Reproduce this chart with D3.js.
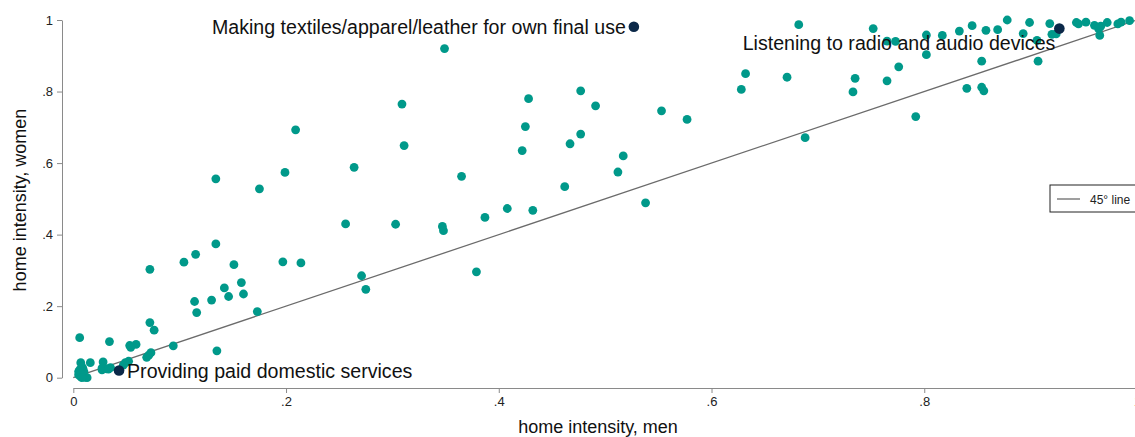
<!DOCTYPE html>
<html>
<head>
<meta charset="utf-8">
<script src="https://cdn.jsdelivr.net/npm/d3@7"></script>
<style>
  body { margin: 0; background: #fff; }
  svg { display: block; font-family: "Liberation Sans", Arial, sans-serif; }
  .axis path, .axis line { stroke: #8a8a8a; }
  .axis text { fill: #222; font-size: 13px; }
</style>
</head>
<body>
<div id="chart"></div>
<script>
// home intensity of each activity, men (x) vs women (y)
const menVals = [
  0.006, 0.034, 0.072, 0.072, 0.076, 0.053, 0.059, 0.054, 0.094, 0.135,
  0.073, 0.069, 0.071, 0.007, 0.016, 0.028, 0.027, 0.031, 0.035, 0.009,
  0.005, 0.007, 0.011, 0.013, 0.049, 0.052, 0.047, 0.006, 0.010, 0.005,
  0.008, 0.008, 0.027, 0.033,
  0.104, 0.115, 0.134, 0.151, 0.114, 0.116, 0.130, 0.142, 0.146, 0.158,
  0.160, 0.173, 0.197, 0.214, 0.134, 0.175, 0.199, 0.209, 0.264, 0.256,
  0.303, 0.271, 0.275, 0.309, 0.311, 0.349, 0.347, 0.348, 0.365, 0.379,
  0.387, 0.408, 0.432, 0.422, 0.425, 0.428, 0.462, 0.467, 0.477, 0.477,
  0.491, 0.512, 0.517, 0.538, 0.553, 0.577, 0.628, 0.632, 0.671, 0.682,
  0.688, 0.733, 0.735, 0.752, 0.765, 0.765, 0.773, 0.776, 0.792, 0.802,
  0.802, 0.817, 0.833, 0.840, 0.845, 0.854, 0.854, 0.856, 0.858, 0.869,
  0.878, 0.893, 0.899, 0.906, 0.907, 0.918, 0.920, 0.924, 0.943, 0.945,
  0.952, 0.960, 0.964, 0.965, 0.966, 0.972, 0.982, 0.985, 0.993
];
const womenVals = [
  0.112, 0.101, 0.303, 0.154, 0.133, 0.090, 0.093, 0.085, 0.089, 0.075,
  0.070, 0.057, 0.063, 0.042, 0.042, 0.044, 0.027, 0.025, 0.028, 0.026,
  0.017, 0.003, 0.001, 0.000, 0.042, 0.046, 0.035, 0.022, 0.017, 0.008,
  0.000, 0.031, 0.022, 0.024,
  0.323, 0.345, 0.374, 0.316, 0.213, 0.182, 0.217, 0.251, 0.227, 0.266,
  0.234, 0.185, 0.324, 0.321, 0.556, 0.528, 0.574, 0.693, 0.588, 0.430,
  0.429, 0.285, 0.247, 0.765, 0.649, 0.920, 0.423, 0.411, 0.563, 0.296,
  0.448, 0.473, 0.468, 0.635, 0.702, 0.780, 0.534, 0.654, 0.681, 0.802,
  0.760, 0.575, 0.620, 0.489, 0.746, 0.722, 0.806, 0.850, 0.840, 0.987,
  0.671, 0.799, 0.837, 0.976, 0.830, 0.941, 0.940, 0.869, 0.730, 0.958,
  0.903, 0.957, 0.969, 0.809, 0.984, 0.885, 0.812, 0.802, 0.971, 0.973,
  1.000, 0.962, 0.993, 0.943, 0.885, 0.990, 0.960, 0.961, 0.993, 0.989,
  0.994, 0.985, 0.975, 0.957, 0.983, 0.993, 0.989, 0.994, 0.998
];

// labelled activities
const hlLabels = [
  "Making textiles/apparel/leather for own final use",
  "Listening to radio and audio devices",
  "Providing paid domestic services"
];
const hlMen = [0.527, 0.927, 0.043];
const hlWomen = [0.981, 0.976, 0.020];
const hlSide = ["left", "left", "right"];

const xTicks = [0, 0.2, 0.4, 0.6, 0.8, 1];
const yTicks = [0, 0.2, 0.4, 0.6, 0.8, 1];
const tickFmt = v => v === 0 ? "0" : v === 1 ? "1" : d3.format(".1f")(v).replace(/^0/, "");

const width = 1135, height = 437;

const svg = d3.select("#chart").append("svg")
    .attr("width", width)
    .attr("height", height);

const x = d3.scaleLinear().domain([0, 1]).range([73.3, 1137]);
const y = d3.scaleLinear().domain([0, 1]).range([377.7, 20]);

// axes
svg.append("g")
    .attr("class", "axis")
    .attr("transform", "translate(0,388)")
    .call(d3.axisBottom(x).tickValues(xTicks).tickFormat(tickFmt).tickSize(5).tickSizeOuter(0).tickPadding(4));

svg.append("g")
    .attr("class", "axis")
    .attr("transform", "translate(62,0)")
    .call(d3.axisLeft(y).tickValues(yTicks).tickFormat(tickFmt).tickSize(5).tickSizeOuter(0).tickPadding(4));

// axis titles
svg.append("text")
    .attr("x", 598)
    .attr("y", 433)
    .attr("text-anchor", "middle")
    .attr("font-size", 18)
    .attr("fill", "#111")
    .text("home intensity, men");

svg.append("text")
    .attr("transform", "translate(26,200) rotate(-90)")
    .attr("text-anchor", "middle")
    .attr("font-size", 18)
    .attr("fill", "#111")
    .text("home intensity, women");

// 45 degree line
svg.append("line")
    .attr("x1", x(0)).attr("y1", y(0))
    .attr("x2", x(1)).attr("y2", y(1))
    .attr("stroke", "#6b6b6b")
    .attr("stroke-width", 1.3);

// points
const pts = menVals.map((m, i) => ({men: m, women: womenVals[i]}));
svg.append("g").selectAll("circle")
    .data(pts)
    .join("circle")
    .attr("cx", d => x(d.men))
    .attr("cy", d => y(d.women))
    .attr("r", 4.4)
    .attr("fill", "#00998a");

// highlighted activities
const hl = hlLabels.map((l, i) => ({label: l, men: hlMen[i], women: hlWomen[i], side: hlSide[i]}));
const hg = svg.append("g");
hg.selectAll("circle")
    .data(hl)
    .join("circle")
    .attr("cx", d => x(d.men))
    .attr("cy", d => y(d.women))
    .attr("r", 5.3)
    .attr("fill", "#0b2848");

hg.selectAll("text")
    .data(hl)
    .join("text")
    .attr("x", (d, i) => d.side === "right" ? x(d.men) + 8 : x(d.men) - (i === 0 ? 8 : 4))
    .attr("y", (d, i) => y(d.women) + (i === 1 ? 21 : 7))
    .attr("text-anchor", d => d.side === "right" ? "start" : "end")
    .attr("font-size", 19.6)
    .attr("fill", "#111")
    .text(d => d.label);

// legend
const lg = svg.append("g").attr("transform", "translate(1050,185)");
lg.append("rect")
    .attr("width", 95).attr("height", 27)
    .attr("fill", "#fff")
    .attr("stroke", "#222")
    .attr("stroke-width", 1);
lg.append("line")
    .attr("x1", 7).attr("x2", 30)
    .attr("y1", 14).attr("y2", 14)
    .attr("stroke", "#6b6b6b")
    .attr("stroke-width", 1.3);
lg.append("text")
    .attr("x", 40).attr("y", 18.5)
    .attr("font-size", 12)
    .attr("fill", "#222")
    .text("45° line");
</script>
</body>
</html>
